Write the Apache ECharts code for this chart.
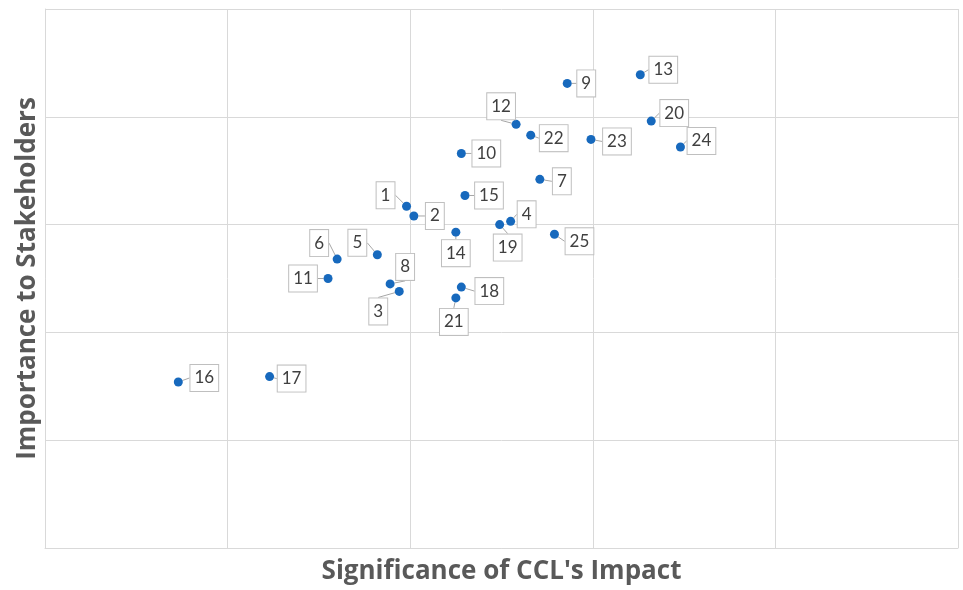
<!DOCTYPE html>
<html>
<head>
<meta charset="utf-8">
<script src="https://cdn.jsdelivr.net/npm/echarts@6/dist/echarts.min.js"></script>
<style>
html, body { margin: 0; padding: 0; background: #fff; }
#chart-container { width: 963px; height: 590px; }
</style>
</head>
<body>
<div id="chart-container"></div>
<script>
// 議題編號
var issueIds = ['1', '2', '3', '4', '5', '6', '7', '8', '9', '10', '11', '12', '13',
    '14', '15', '16', '17', '18', '19', '20', '21', '22', '23', '24', '25'];
// 影響程度 (x)
var impactValues = [1.98, 2.02, 1.94, 2.55, 1.82, 1.60, 2.71, 1.89, 2.86, 2.28, 1.55, 2.58, 3.26,
    2.25, 2.30, 0.73, 1.23, 2.28, 2.49, 3.32, 2.25, 2.66, 2.99, 3.48, 2.79];
// 利害關係人重視程度 (y)
var stakeholderValues = [3.17, 3.08, 2.38, 3.03, 2.72, 2.68, 3.42, 2.45, 4.31, 3.66, 2.50, 3.93, 4.39,
    2.93, 3.27, 1.54, 1.59, 2.42, 3.00, 3.96, 2.32, 3.83, 3.79, 3.72, 2.91];

// 標籤偏移 (px)
var labelOffsets = [[-21, -11], [21, 0], [-21, 20], [16, -7], [-20, -12], [-18, -16], [22, 2], [15, -17],
    [19, 0], [25, 0], [-25, 0], [-15, -18], [23, -5], [0, 21], [24, 0], [26, -4], [22, 2], [28, 4],
    [8, 23], [23, -8], [-2, 24], [23, 3], [26, 2], [21, -6], [25, 7]];

var chart = echarts.init(document.getElementById('chart-container'));

var points = impactValues.map(function(x, i) {
    return { value: [x, stakeholderValues[i]], name: issueIds[i] };
});

var gridColor = '#d9d9d9';

var option = {
    animation: false,
    grid: {
        left: 45,
        right: 5,
        top: 9,
        bottom: 42
    },
    xAxis: {
        type: 'value',
        min: 0,
        max: 5,
        interval: 1,
        name: "Significance of CCL's Impact",
        nameLocation: 'middle',
        nameGap: 11,
        nameTextStyle: {
            fontFamily: 'Open Sans',
            fontWeight: 'bold',
            fontSize: 26,
            color: '#595959',
            verticalAlign: 'top'
        },
        axisLine: { show: true, lineStyle: { color: gridColor } },
        axisTick: { show: false },
        axisLabel: { show: false },
        splitLine: { show: true, lineStyle: { color: gridColor } }
    },
    yAxis: {
        type: 'value',
        min: 0,
        max: 5,
        interval: 1,
        name: 'Importance to Stakeholders',
        nameLocation: 'middle',
        nameGap: 4,
        nameTextStyle: {
            fontFamily: 'Open Sans',
            fontWeight: 'bold',
            fontSize: 26,
            color: '#595959',
            verticalAlign: 'bottom'
        },
        axisLine: { show: true, lineStyle: { color: gridColor } },
        axisTick: { show: false },
        axisLabel: { show: false },
        splitLine: { show: true, lineStyle: { color: gridColor } }
    },
    series: [{
        type: 'scatter',
        data: points,
        symbolSize: 9,
        itemStyle: { color: '#1769bd', opacity: 1 },
        label: {
            show: true,
            position: 'inside',
            formatter: '{b}',
            fontFamily: 'Lato',
            fontSize: 17,
            color: '#404040',
            backgroundColor: '#ffffff',
            borderColor: '#bfbfbf',
            borderWidth: 1,
            padding: [4, 4, 3, 4],
            lineHeight: 19
        },
        labelLine: {
            show: true,
            length2: 0,
            lineStyle: { color: '#a6a6a6', width: 1 }
        },
        labelLayout: function(params) {
            var off = labelOffsets[params.dataIndex];
            return { dx: off[0], dy: off[1] };
        }
    }]
};

chart.setOption(option);
</script>
</body>
</html>
